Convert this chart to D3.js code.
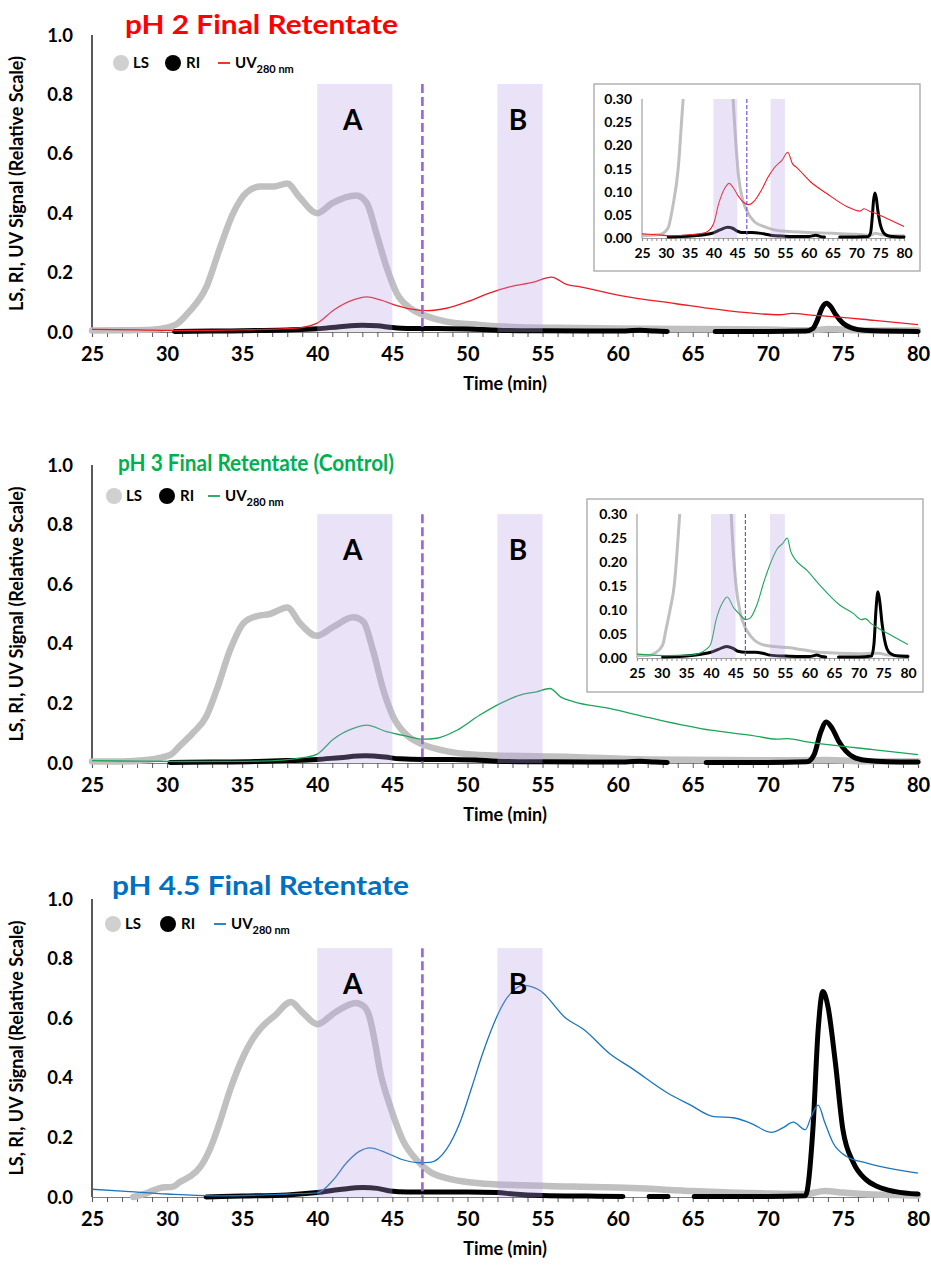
<!DOCTYPE html>
<html><head><meta charset="utf-8">
<script src="https://cdn.jsdelivr.net/npm/d3@7"></script>
<style>
body{margin:0;background:#fff}
svg{display:block;font-family:Lato,'Open Sans',sans-serif;font-weight:700}
</style>
</head><body>
<svg id="c" width="931" height="1267"></svg>
<script>
// ---------- data ----------
const timeLabels = [25,30,35,40,45,50,55,60,65,70,75,80];
const yLabelsMain = [0,0.2,0.4,0.6,0.8,1.0];
const yLabelsInset = [0,0.05,0.10,0.15,0.20,0.25,0.30];
const bands = [[40,45],[52,55]];
const bandNames = ["A","B"];
const cutTime = 47;
const panelTitles = ["pH 2 Final Retentate","pH 3 Final Retentate (Control)","pH 4.5 Final Retentate"];
const seriesNames = ["LS","RI","UV"];

const ls_pH2 = [[25,0.005],[27,0.006],[29,0.008],[30,0.015],[30.6,0.025],[31.5,0.07],[32.6,0.15],[33.5,0.28],[34.4,0.40],[35.3,0.47],[36.2,0.49],[37.1,0.49],[38,0.50],[38.8,0.455],[40,0.40],[41,0.434],[42.6,0.46],[43.3,0.434],[43.95,0.33],[44.6,0.22],[45.3,0.13],[46.2,0.08],[47.1,0.057],[48.6,0.035],[50.8,0.024],[53,0.017],[56,0.014],[60,0.012],[65,0.01],[70,0.008],[73,0.006],[74,0.01],[75,0.008],[77,0.005],[80,0.005]];
const ri_pH2 = [[30.5,0.002],[33,0.003],[36,0.005],[38,0.007],[40,0.011],[41.5,0.018],[43,0.023],[44,0.021],[45,0.015],[46,0.012],[48,0.012],[50,0.01],[52,0.006],[55,0.004],[58,0.003],[60,0.003],[61.5,0.006],[62.5,0.003],[63.3,0.002],[63.4,null],[66.5,0.002],[70,0.002],[72.5,0.003],[73,0.012],[73.3,0.04],[73.6,0.08],[73.9,0.097],[74.2,0.085],[74.5,0.06],[75,0.03],[75.5,0.015],[76,0.008],[77,0.004],[80,0.002]];
const uv_pH2 = [[25,0.009],[28,0.007],[31,0.005],[35,0.007],[38.4,0.012],[40,0.03],[41.1,0.074],[42.4,0.108],[43.3,0.118],[44.2,0.108],[45.3,0.089],[46.4,0.076],[47.3,0.072],[48.6,0.08],[50,0.102],[51.5,0.132],[52.8,0.152],[54.4,0.168],[55.6,0.185],[56.6,0.16],[57.5,0.152],[60.3,0.122],[63.8,0.096],[68,0.068],[70.8,0.058],[71.6,0.063],[72.9,0.057],[74.3,0.052],[77.1,0.039],[80,0.025]];

const ls_pH3 = [[25,0.005],[27,0.005],[28.6,0.01],[30.2,0.027],[30.9,0.06],[31.7,0.1],[32.6,0.155],[33.3,0.245],[34.2,0.38],[35.1,0.47],[36,0.493],[36.85,0.5],[38,0.522],[38.85,0.469],[39.96,0.427],[41.07,0.457],[42.4,0.489],[43.07,0.474],[43.7,0.38],[44.4,0.245],[45.06,0.155],[45.95,0.094],[46.85,0.066],[48.2,0.044],[50.8,0.027],[57,0.02],[62,0.012],[70,0.009],[74,0.01],[76,0.006],[80,0.005]];
const ri_pH3 = [[30.2,0.002],[33,0.003],[36,0.005],[38,0.008],[40,0.012],[41.5,0.018],[43.2,0.024],[44.5,0.02],[45.5,0.014],[47,0.012],[49,0.012],[50.5,0.01],[52,0.006],[55,0.004],[58,0.003],[60,0.003],[61.5,0.006],[62.5,0.003],[63.3,0.002],[63.4,null],[65.9,0.002],[70,0.002],[72.6,0.004],[73.1,0.03],[73.5,0.1],[73.9,0.138],[74.3,0.115],[74.7,0.075],[75.2,0.04],[75.7,0.02],[76.5,0.009],[78,0.004],[80,0.003]];
const uv_pH3 = [[25,0.008],[28,0.006],[31,0.005],[36,0.006],[39.3,0.02],[40,0.03],[41.07,0.08],[42.4,0.116],[43.3,0.127],[44.6,0.105],[45.95,0.09],[47.06,0.08],[47.95,0.083],[49.3,0.11],[50.8,0.16],[52.2,0.2],[53.5,0.228],[54.6,0.239],[55.5,0.25],[56.2,0.222],[57.05,0.206],[59.45,0.183],[62.1,0.152],[66.2,0.11],[68.9,0.093],[70.6,0.08],[71.3,0.082],[72.6,0.071],[74.3,0.06],[77,0.045],[80,0.028]];

const ls_pH45 = [[27.75,0.0],[28.6,0.012],[29.5,0.03],[30.4,0.035],[30.85,0.05],[31.5,0.068],[32.2,0.10],[32.85,0.16],[33.5,0.25],[34.2,0.36],[35.1,0.474],[35.7,0.53],[36.2,0.564],[37.2,0.61],[38.24,0.654],[39,0.62],[40,0.58],[41.2,0.62],[42.57,0.651],[43.1,0.64],[43.5,0.6],[43.8,0.53],[44.2,0.418],[44.85,0.305],[45.7,0.19],[46.6,0.125],[47.5,0.085],[48.6,0.063],[50.8,0.046],[53.05,0.04],[57,0.035],[61,0.03],[65,0.02],[69.9,0.012],[72.5,0.01],[73.8,0.02],[75,0.015],[77,0.008],[80,0.005]];
const ri_pH45 = [[32.6,0.0],[35,0.003],[38,0.007],[40,0.015],[41.5,0.025],[43.06,0.032],[44,0.029],[44.85,0.02],[46,0.017],[50,0.017],[52,0.015],[53.05,0.01],[55,0.005],[58,0.003],[60.35,0.002],[60.4,null],[62.1,0.002],[63.35,0.002],[63.4,null],[65.1,0.002],[70,0.002],[72.5,0.004],[73.0,0.226],[73.35,0.56],[73.67,0.69],[74.0,0.64],[74.5,0.45],[75.0,0.226],[75.7,0.115],[76.5,0.06],[77.3,0.035],[78.5,0.018],[80,0.01]];
const uv_pH45 = [[25,0.026],[27,0.02],[30,0.01],[33,0.004],[36,0.006],[38,0.01],[40,0.014],[41.06,0.057],[41.95,0.115],[42.8,0.153],[43.5,0.165],[44.6,0.148],[45.7,0.125],[46.8,0.115],[47.5,0.116],[48.6,0.16],[49.5,0.25],[50.3,0.37],[51.0,0.48],[51.7,0.575],[52.4,0.65],[53.0,0.69],[53.7,0.71],[54.8,0.694],[56.6,0.598],[57.7,0.564],[59.5,0.48],[61,0.43],[63.3,0.35],[64.8,0.31],[66.4,0.27],[67.7,0.266],[68.8,0.249],[70.25,0.217],[71,0.232],[71.7,0.251],[72.5,0.226],[72.9,0.271],[73.35,0.308],[73.8,0.249],[74.35,0.181],[75.25,0.136],[76.6,0.114],[80,0.08]];

// ---------- layout ----------
const svg = d3.select("#c");
const X0 = 92, X1 = 918;
const x = d3.scaleLinear().domain([25,80]).range([X0,X1]);
const LS_COL = "#c0c0c0", BAND_COL = "rgb(185,160,225)", BAND_OP = 0.3, CUT_COL = "#9b63d8";

const panels = [
  {title:panelTitles[0], tcol:"#ff0000", uvcol:"#ee1c25", tsize:26, tx:125, tw:273, ty:34,
   ls:ls_pH2, ri:ri_pH2, uv:uv_pH2, top:35, bot:332, leg:[121,173,218], legY:63,
   inset:{px0:642, py0:99, px1:904, py1:238, bx0:594, by0:84, bx1:920, by1:271}},
  {title:panelTitles[1], tcol:"#00b050", uvcol:"#1aa55a", tsize:22, tx:118, tw:276, ty:471,
   ls:ls_pH3, ri:ri_pH3, uv:uv_pH3, top:465, bot:763, leg:[114,167,208], legY:496,
   inset:{px0:637, py0:514, px1:908, py1:658, bx0:587, by0:499, bx1:923, by1:692}},
  {title:panelTitles[2], tcol:"#0070c0", uvcol:"#1b75bc", tsize:26, tx:112, tw:297, ty:895,
   ls:ls_pH45, ri:ri_pH45, uv:uv_pH45, top:899, bot:1197, leg:[113,168,214], legY:924,
   inset:null}
];

let clipId = 0;
function drawSeries(g, p, xs, y, widths) {
  const line = d3.line().defined(d => d[1] != null)
    .x(d => xs(d[0])).y(d => y(d[1])).curve(d3.curveMonotoneX);
  g.append("path").attr("d", line(p.ls)).attr("fill","none").attr("stroke",LS_COL)
    .attr("stroke-width",widths[0]).attr("stroke-linejoin","round").attr("stroke-linecap","round");
  g.append("path").attr("d", line(p.ri)).attr("fill","none").attr("stroke","#000")
    .attr("stroke-width",widths[1]).attr("stroke-linejoin","round").attr("stroke-linecap","round");
  g.append("path").attr("d", line(p.uv)).attr("fill","none").attr("stroke",p.uvcol)
    .attr("stroke-width",widths[2]);
}

panels.forEach(p => {
  const y = d3.scaleLinear().domain([0,1]).range([p.bot,p.top]);
  const g = svg.append("g");

  // y axis title
  g.append("text").attr("transform",`translate(23,${(p.top+p.bot)/2}) rotate(-90)`)
    .attr("text-anchor","middle").attr("font-size",18).attr("fill","#000")
    .text("LS, RI, UV Signal (Relative Scale)");

  // y axis line & labels
  g.append("line").attr("x1",X0).attr("x2",X0).attr("y1",y(1)).attr("y2",y(0))
    .attr("stroke","#000").attr("stroke-width",1.3);
  g.selectAll(".yl").data(yLabelsMain).join("text")
    .attr("x",X0-19).attr("y",d=>y(d)).attr("dy","0.36em").attr("text-anchor","end")
    .attr("font-size",18.5).text(d=>d3.format(".1f")(d));

  // x axis
  const ax = g.append("g").attr("transform",`translate(0,${y(0)})`)
    .call(d3.axisBottom(x).tickValues(d3.range(25,80.5,1)).tickSize(5).tickPadding(10)
      .tickFormat(d => timeLabels.includes(d) ? d : ""));
  ax.select(".domain").attr("stroke","#7f7f7f").attr("stroke-width",1.2);
  ax.selectAll(".tick line").attr("stroke","#595959");
  ax.selectAll(".tick text").attr("font-size",20).attr("font-family","Lato").attr("font-weight",700).attr("fill","#000");
  g.append("text").attr("x",505).attr("y",y(0)+58).attr("text-anchor","middle")
    .attr("font-size",18).text("Time (min)");

  // series
  drawSeries(g, p, x, y, [6.5,5,1.3]);

  // bands overlay
  g.selectAll(".band").data(bands).join("rect")
    .attr("x",d=>x(d[0])).attr("width",d=>x(d[1])-x(d[0]))
    .attr("y",y(0.835)).attr("height",y(0)-y(0.835))
    .attr("fill",BAND_COL).attr("opacity",BAND_OP);
  g.append("line").attr("x1",x(cutTime)).attr("x2",x(cutTime)).attr("y1",y(0.835)).attr("y2",y(0))
    .attr("stroke",CUT_COL).attr("stroke-width",2.6).attr("stroke-dasharray","9,4");
  g.selectAll(".bl").data(bands).join("text")
    .attr("x",d=>x((d[0]+d[1])/2)-2).attr("y",y(0.715)).attr("dy","0.36em")
    .attr("text-anchor","middle").attr("font-size",28).text((d,i)=>bandNames[i]);

  // title
  g.append("text").attr("x",p.tx).attr("y",p.ty).attr("font-size",p.tsize).attr("fill",p.tcol)
    .attr("textLength",p.tw).attr("lengthAdjust","spacingAndGlyphs").text(p.title);

  // legend
  const lg = g.append("g").attr("font-size",15);
  lg.append("circle").attr("cx",p.leg[0]).attr("cy",p.legY).attr("r",8).attr("fill","#d0d0d0");
  lg.append("text").attr("x",p.leg[0]+12).attr("y",p.legY).attr("dy","0.36em").text(seriesNames[0]);
  lg.append("circle").attr("cx",p.leg[1]).attr("cy",p.legY).attr("r",8).attr("fill","#000");
  lg.append("text").attr("x",p.leg[1]+13).attr("y",p.legY).attr("dy","0.36em").text(seriesNames[1]);
  lg.append("line").attr("x1",p.leg[2]).attr("x2",p.leg[2]+12).attr("y1",p.legY).attr("y2",p.legY)
    .attr("stroke",p.uvcol).attr("stroke-width",1.8);
  const ut = lg.append("text").attr("x",p.leg[2]+17).attr("y",p.legY).attr("dy","0.36em");
  ut.append("tspan").text(seriesNames[2]);
  ut.append("tspan").attr("font-size",11).attr("dy","0.45em").text("280 nm");

  // inset
  if (p.inset) {
    const s = p.inset;
    const ig = svg.append("g");
    ig.append("rect").attr("x",s.bx0).attr("y",s.by0).attr("width",s.bx1-s.bx0).attr("height",s.by1-s.by0)
      .attr("fill","#fff").attr("stroke","#a6a6a6").attr("stroke-width",1.3);
    const xi = d3.scaleLinear().domain([25,80]).range([s.px0,s.px1]);
    const yi = d3.scaleLinear().domain([0,0.30]).range([s.py1,s.py0]);
    const cid = "clip"+(clipId++);
    ig.append("clipPath").attr("id",cid).append("rect")
      .attr("x",s.px0).attr("y",s.py0).attr("width",s.px1-s.px0+4).attr("height",s.py1-s.py0+4);
    // axes
    ig.append("line").attr("x1",s.px0).attr("x2",s.px0).attr("y1",s.py0).attr("y2",s.py1)
      .attr("stroke","#a0a0a0").attr("stroke-width",1.2);
    const iax = ig.append("g").attr("transform",`translate(0,${s.py1})`)
      .call(d3.axisBottom(xi).tickValues(d3.range(25,80.5,1)).tickSize(3).tickPadding(7)
        .tickFormat(d => timeLabels.includes(d) ? d : ""));
    iax.select(".domain").attr("stroke","#a0a0a0").attr("stroke-width",1.2);
    iax.selectAll(".tick line").attr("stroke","#8c8c8c");
    iax.selectAll(".tick text").attr("font-size",14).attr("font-family","Lato").attr("font-weight",700).attr("fill","#000");
    ig.selectAll(".iyl").data(yLabelsInset).join("text")
      .attr("x",s.px0-10).attr("y",d=>yi(d)).attr("dy","0.36em").attr("text-anchor","end")
      .attr("font-size",14).text(d=>d3.format(".2f")(d));
    const pg = ig.append("g").attr("clip-path",`url(#${cid})`);
    drawSeries(pg, p, xi, yi, [3,3,1.1]);
    pg.selectAll(".iband").data(bands).join("rect")
      .attr("x",d=>xi(d[0])).attr("width",d=>xi(d[1])-xi(d[0]))
      .attr("y",s.py0).attr("height",s.py1-s.py0)
      .attr("fill",BAND_COL).attr("opacity",BAND_OP);
    ig.append("line").attr("x1",xi(cutTime)).attr("x2",xi(cutTime)).attr("y1",s.py0).attr("y2",s.py1)
      .attr("stroke","#7a4fe0").attr("stroke-width",1.2).attr("stroke-dasharray","4,2");
  }
});
</script>
</body></html>
